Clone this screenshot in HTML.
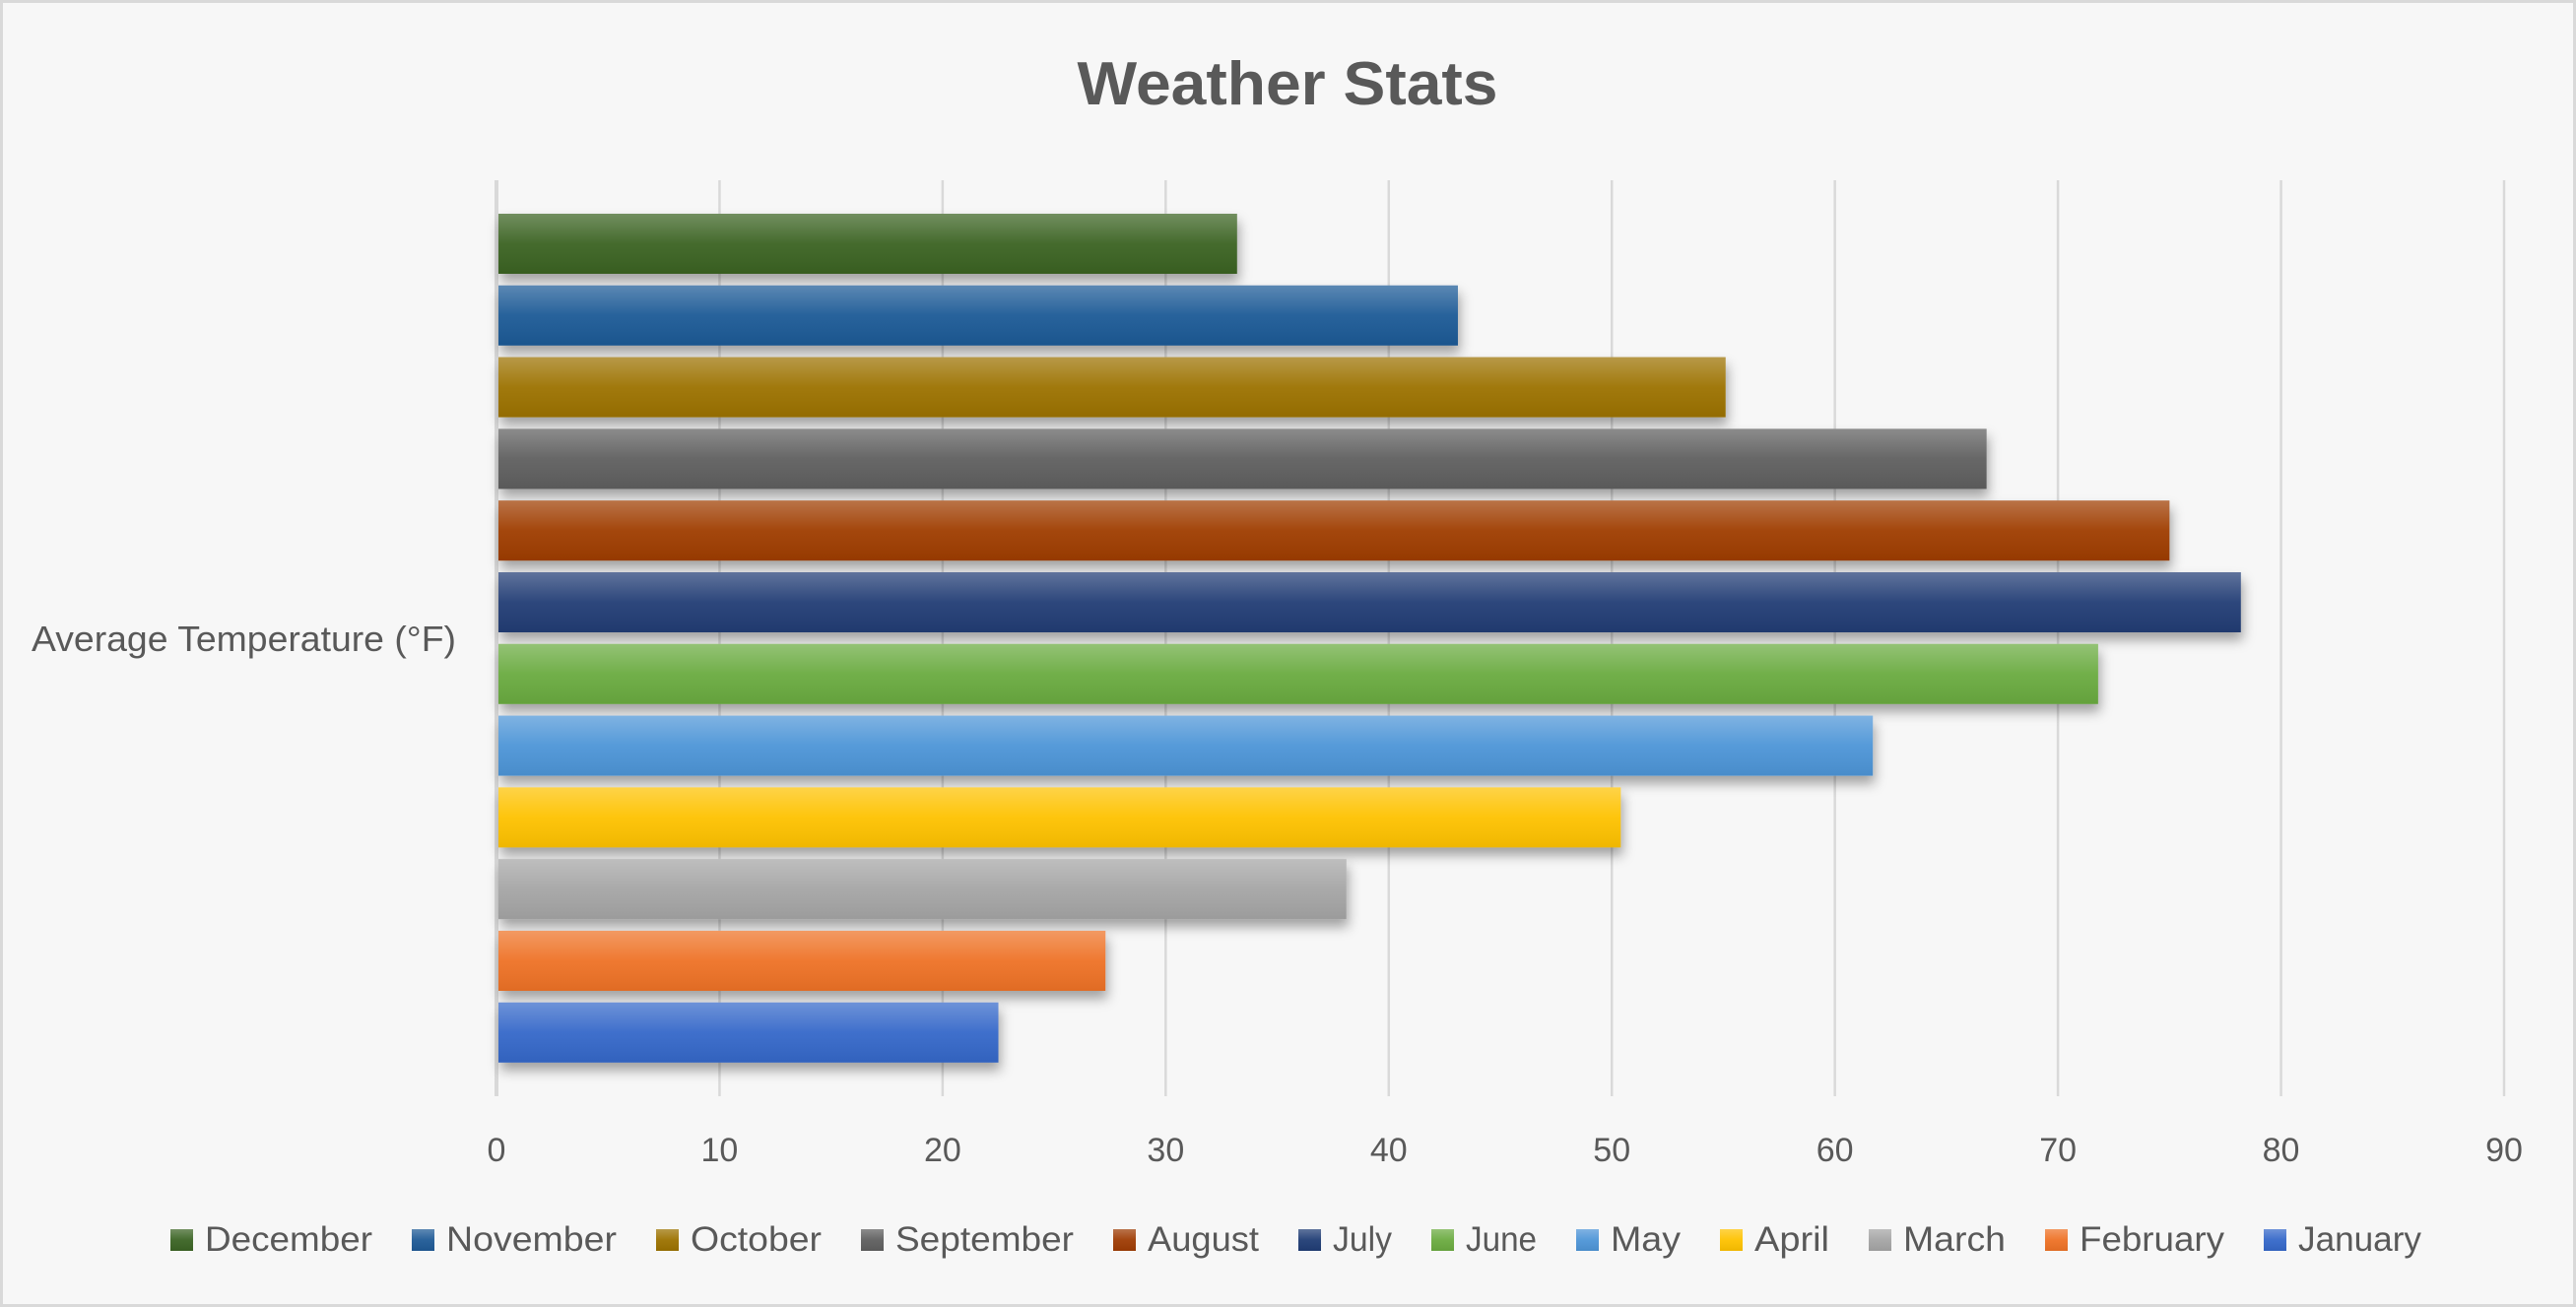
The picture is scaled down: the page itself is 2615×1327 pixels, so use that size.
<!DOCTYPE html>
<html><head><meta charset="utf-8"><style>
html,body{margin:0;padding:0;background:#f7f7f7}
svg{display:block}
text{font-family:"Liberation Sans",sans-serif;fill:#595959}
</style></head><body>
<svg id="chart" width="2615" height="1327" viewBox="0 0 2615 1327" xmlns="http://www.w3.org/2000/svg">
<defs>
<filter id="sh" x="-5%" y="-30%" width="110%" height="180%"><feDropShadow dx="2" dy="8" stdDeviation="6" flood-color="#000" flood-opacity="0.35"/></filter>
<linearGradient id="gl" x1="0" y1="0" x2="0" y2="1"><stop offset="0" stop-color="#fff" stop-opacity="0.28"/><stop offset="0.5" stop-color="#fff" stop-opacity="0.05"/><stop offset="1" stop-color="#000" stop-opacity="0.06"/></linearGradient>
</defs>
<rect x="1.5" y="1.5" width="2612" height="1324" fill="#f7f7f7" stroke="#d9d9d9" stroke-width="3"/>
<text x="1307" y="106" font-size="62" font-weight="bold" text-anchor="middle" textLength="427" lengthAdjust="spacingAndGlyphs">Weather Stats</text>
<text x="32" y="661" font-size="36" textLength="431" lengthAdjust="spacingAndGlyphs">Average Temperature (°F)</text>
<g id="grid"></g>
<g id="bars"></g>
<g id="ticks"></g>
<g id="legend"></g>
</svg>
<script>
const months = ["December","November","October","September","August","July","June","May","April","March","February","January"];
const temps = [33.2,43.1,55.1,66.8,75.0,78.2,71.8,61.7,50.4,38.1,27.3,22.5];
const colors = ["#3b6424","#1f5a96","#9c7200","#5f5f5f","#9f3c04","#203d75","#6bab40","#4e95d7","#fec200","#a5a5a5","#ee7226","#3568c9"];
const tickValues = [0,10,20,30,40,50,60,70,80,90];
const legendX = [173,418,666,874,1130,1318,1453,1600,1746,1897,2076,2298];

const NS="http://www.w3.org/2000/svg";
const x0=504, unit=(2542-504)/90, plotTop=183, plotBot=1113;
const xs=v=>x0+v*unit;
const pitch=72.8, barH=61, firstTop=217;
const ys=i=>firstTop+i*pitch;
function mk(tag,attrs,parent){const e=document.createElementNS(NS,tag);for(const k in attrs)e.setAttribute(k,attrs[k]);parent.appendChild(e);return e;}
const grid=document.getElementById('grid'),bars=document.getElementById('bars'),ticks=document.getElementById('ticks'),legend=document.getElementById('legend');
tickValues.forEach(t=>{
  const l=mk('line',{x1:xs(t),x2:xs(t),y1:plotTop,y2:plotBot,stroke:'#d9d9d9','stroke-width':t===0?4:2.5},grid);
  
  
  const tx=mk('text',{x:xs(t),y:1179,'font-size':34,'text-anchor':'middle'},ticks);
  tx.textContent=String(t);
  
  
});
months.forEach((m,i)=>{
  const g=mk('g',{},bars);
  
  
  mk('rect',{x:x0+2,y:ys(i),width:xs(temps[i])-x0-2,height:barH,fill:colors[i],filter:'url(#sh)'},g);
  mk('rect',{x:x0+2,y:ys(i),width:xs(temps[i])-x0-2,height:barH,fill:'url(#gl)'},g);
});
months.forEach((m,i)=>{
  const g=mk('g',{},legend);
  
  
  const lx=legendX[i];
  mk('rect',{x:lx,y:1248,width:23,height:22,fill:colors[i]},g);
  mk('rect',{x:lx,y:1248,width:23,height:22,fill:'url(#gl)'},g);
  const next=i<months.length-1?legendX[i+1]-40:2458;
  const t=mk('text',{x:lx+35,y:1270,'font-size':35,textLength:next-(lx+35),lengthAdjust:'spacingAndGlyphs'},g);
  t.textContent=m;
});
</script>
</body></html>
